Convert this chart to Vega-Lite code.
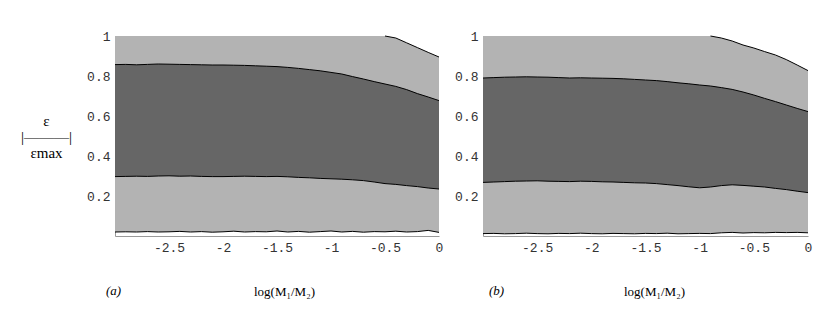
{
  "$schema": "https://vega.github.io/schema/vega-lite/v6.json",
  "padding": {"left": 20, "top": 30, "right": 5, "bottom": 5},
  "datasets": {
    "a": [
      {"x": -3.0, "lo": 0.020, "hi": 1, "dlo": 0.297, "dhi": 0.857},
      {"x": -2.9, "lo": 0.021, "hi": 1, "dlo": 0.298, "dhi": 0.858},
      {"x": -2.8, "lo": 0.020, "hi": 1, "dlo": 0.299, "dhi": 0.856},
      {"x": -2.7, "lo": 0.022, "hi": 1, "dlo": 0.298, "dhi": 0.858},
      {"x": -2.6, "lo": 0.020, "hi": 1, "dlo": 0.300, "dhi": 0.860},
      {"x": -2.5, "lo": 0.021, "hi": 1, "dlo": 0.301, "dhi": 0.859},
      {"x": -2.4, "lo": 0.023, "hi": 1, "dlo": 0.299, "dhi": 0.858},
      {"x": -2.3, "lo": 0.020, "hi": 1, "dlo": 0.300, "dhi": 0.857},
      {"x": -2.2, "lo": 0.022, "hi": 1, "dlo": 0.298, "dhi": 0.856},
      {"x": -2.1, "lo": 0.019, "hi": 1, "dlo": 0.297, "dhi": 0.855},
      {"x": -2.0, "lo": 0.021, "hi": 1, "dlo": 0.297, "dhi": 0.855},
      {"x": -1.9, "lo": 0.024, "hi": 1, "dlo": 0.298, "dhi": 0.854},
      {"x": -1.8, "lo": 0.020, "hi": 1, "dlo": 0.299, "dhi": 0.853},
      {"x": -1.7, "lo": 0.022, "hi": 1, "dlo": 0.298, "dhi": 0.851},
      {"x": -1.6, "lo": 0.021, "hi": 1, "dlo": 0.297, "dhi": 0.849},
      {"x": -1.5, "lo": 0.025, "hi": 1, "dlo": 0.298, "dhi": 0.847},
      {"x": -1.4, "lo": 0.020, "hi": 1, "dlo": 0.296, "dhi": 0.843},
      {"x": -1.3, "lo": 0.023, "hi": 1, "dlo": 0.293, "dhi": 0.838},
      {"x": -1.2, "lo": 0.019, "hi": 1, "dlo": 0.291, "dhi": 0.832},
      {"x": -1.1, "lo": 0.022, "hi": 1, "dlo": 0.288, "dhi": 0.826},
      {"x": -1.0, "lo": 0.025, "hi": 1, "dlo": 0.286, "dhi": 0.818},
      {"x": -0.9, "lo": 0.020, "hi": 1, "dlo": 0.284, "dhi": 0.810},
      {"x": -0.8, "lo": 0.023, "hi": 1, "dlo": 0.281, "dhi": 0.797},
      {"x": -0.7, "lo": 0.019, "hi": 1, "dlo": 0.277, "dhi": 0.785},
      {"x": -0.6, "lo": 0.022, "hi": 1, "dlo": 0.270, "dhi": 0.772},
      {"x": -0.5, "lo": 0.021, "hi": 1, "hl": 1, "dlo": 0.262, "dhi": 0.760},
      {"x": -0.4, "lo": 0.024, "hi": 0.990, "hl": 0.990, "dlo": 0.258, "dhi": 0.748},
      {"x": -0.3, "lo": 0.020, "hi": 0.966, "hl": 0.966, "dlo": 0.252, "dhi": 0.732},
      {"x": -0.2, "lo": 0.022, "hi": 0.942, "hl": 0.942, "dlo": 0.247, "dhi": 0.712},
      {"x": -0.1, "lo": 0.028, "hi": 0.918, "hl": 0.918, "dlo": 0.240, "dhi": 0.695},
      {"x": 0.0, "lo": 0.018, "hi": 0.895, "hl": 0.895, "dlo": 0.235, "dhi": 0.677}
    ],
    "b": [
      {"x": -3.0, "lo": 0.012, "hi": 1, "dlo": 0.268, "dhi": 0.790},
      {"x": -2.9, "lo": 0.013, "hi": 1, "dlo": 0.270, "dhi": 0.792},
      {"x": -2.8, "lo": 0.011, "hi": 1, "dlo": 0.272, "dhi": 0.794},
      {"x": -2.7, "lo": 0.012, "hi": 1, "dlo": 0.274, "dhi": 0.795},
      {"x": -2.6, "lo": 0.014, "hi": 1, "dlo": 0.275, "dhi": 0.796},
      {"x": -2.5, "lo": 0.012, "hi": 1, "dlo": 0.276, "dhi": 0.795},
      {"x": -2.4, "lo": 0.011, "hi": 1, "dlo": 0.274, "dhi": 0.794},
      {"x": -2.3, "lo": 0.013, "hi": 1, "dlo": 0.273, "dhi": 0.792},
      {"x": -2.2, "lo": 0.012, "hi": 1, "dlo": 0.272, "dhi": 0.790},
      {"x": -2.1, "lo": 0.014, "hi": 1, "dlo": 0.274, "dhi": 0.791},
      {"x": -2.0, "lo": 0.012, "hi": 1, "dlo": 0.273, "dhi": 0.790},
      {"x": -1.9, "lo": 0.011, "hi": 1, "dlo": 0.271, "dhi": 0.789},
      {"x": -1.8, "lo": 0.013, "hi": 1, "dlo": 0.270, "dhi": 0.788},
      {"x": -1.7, "lo": 0.012, "hi": 1, "dlo": 0.268, "dhi": 0.786},
      {"x": -1.6, "lo": 0.011, "hi": 1, "dlo": 0.266, "dhi": 0.783},
      {"x": -1.5, "lo": 0.013, "hi": 1, "dlo": 0.265, "dhi": 0.780},
      {"x": -1.4, "lo": 0.012, "hi": 1, "dlo": 0.262, "dhi": 0.777},
      {"x": -1.3, "lo": 0.014, "hi": 1, "dlo": 0.257, "dhi": 0.772},
      {"x": -1.2, "lo": 0.011, "hi": 1, "dlo": 0.252, "dhi": 0.766},
      {"x": -1.1, "lo": 0.012, "hi": 1, "dlo": 0.246, "dhi": 0.761},
      {"x": -1.0, "lo": 0.013, "hi": 1, "dlo": 0.241, "dhi": 0.755},
      {"x": -0.9, "lo": 0.012, "hi": 1, "hl": 1, "dlo": 0.245, "dhi": 0.750},
      {"x": -0.8, "lo": 0.016, "hi": 0.990, "hl": 0.990, "dlo": 0.252, "dhi": 0.742},
      {"x": -0.7, "lo": 0.018, "hi": 0.975, "hl": 0.975, "dlo": 0.256, "dhi": 0.733},
      {"x": -0.6, "lo": 0.015, "hi": 0.955, "hl": 0.955, "dlo": 0.253, "dhi": 0.720},
      {"x": -0.5, "lo": 0.017, "hi": 0.940, "hl": 0.940, "dlo": 0.249, "dhi": 0.705},
      {"x": -0.4, "lo": 0.016, "hi": 0.922, "hl": 0.922, "dlo": 0.245, "dhi": 0.688},
      {"x": -0.3, "lo": 0.018, "hi": 0.905, "hl": 0.905, "dlo": 0.238, "dhi": 0.672},
      {"x": -0.2, "lo": 0.017, "hi": 0.882, "hl": 0.882, "dlo": 0.232, "dhi": 0.655},
      {"x": -0.1, "lo": 0.018, "hi": 0.855, "hl": 0.855, "dlo": 0.224, "dhi": 0.638},
      {"x": 0.0, "lo": 0.016, "hi": 0.827, "hl": 0.827, "dlo": 0.217, "dhi": 0.622}
    ]
  },
  "spacing": 44,
  "bounds": "flush",
  "hconcat": [
    {
      "width": 324,
      "height": 200,
      "data": {"name": "a"},
      "title": {"text": "(a)", "orient": "bottom", "anchor": "start", "frame": "group", "font": "Liberation Serif", "fontSize": 13, "fontStyle": "italic", "fontWeight": "normal", "color": "#000", "dx": -9, "dy": -17, "offset": 4},
      "encoding": {
        "x": {"field": "x", "type": "quantitative", "scale": {"domain": [-3, 0], "nice": false, "zero": false},
          "axis": {"values": [-2.5, -2, -1.5, -1, -0.5, 0], "labelExpr": "'' + datum.value", "title": "log(M₁/M₂)", "titleX": 169, "titleY": 55, "titleBaseline": "middle", "titleAlign": "center"}}
      },
      "layer": [
        {"mark": {"type": "area", "color": "#b3b3b3", "opacity": 1},
         "encoding": {"y": {"field": "lo", "type": "quantitative", "scale": {"domain": [0, 1], "nice": false},
           "axis": {"values": [0.2, 0.4, 0.6, 0.8, 1], "labelExpr": "'' + datum.value", "title": ["ε", "|———|", "εmax"], "titleFont": "Liberation Serif", "titleColor": "#000"}},
           "y2": {"field": "hi"}}},
        {"mark": {"type": "area", "color": "#666666", "opacity": 1},
         "encoding": {"y": {"field": "dlo", "type": "quantitative",
           "axis": {"values": [0.2, 0.4, 0.6, 0.8, 1], "labelExpr": "'' + datum.value", "title": ["ε", "|———|", "εmax"], "titleFont": "Liberation Serif", "titleColor": "#000"}}, "y2": {"field": "dhi"}}},
        {"mark": {"type": "line", "color": "#000", "strokeWidth": 1},
         "encoding": {"y": {"field": "dlo", "type": "quantitative",
           "axis": {"values": [0.2, 0.4, 0.6, 0.8, 1], "labelExpr": "'' + datum.value", "title": ["ε", "|———|", "εmax"], "titleFont": "Liberation Serif", "titleColor": "#000"}}}},
        {"mark": {"type": "line", "color": "#000", "strokeWidth": 1},
         "encoding": {"y": {"field": "dhi", "type": "quantitative",
           "axis": {"values": [0.2, 0.4, 0.6, 0.8, 1], "labelExpr": "'' + datum.value", "title": ["ε", "|———|", "εmax"], "titleFont": "Liberation Serif", "titleColor": "#000"}}}},
        {"mark": {"type": "line", "color": "#000", "strokeWidth": 1},
         "encoding": {"y": {"field": "lo", "type": "quantitative",
           "axis": {"values": [0.2, 0.4, 0.6, 0.8, 1], "labelExpr": "'' + datum.value", "title": ["ε", "|———|", "εmax"], "titleFont": "Liberation Serif", "titleColor": "#000"}}}},
        {"transform": [{"filter": "isValid(datum.hl)"}],
         "mark": {"type": "line", "color": "#000", "strokeWidth": 1},
         "encoding": {"y": {"field": "hl", "type": "quantitative",
           "axis": {"values": [0.2, 0.4, 0.6, 0.8, 1], "labelExpr": "'' + datum.value", "title": ["ε", "|———|", "εmax"], "titleFont": "Liberation Serif", "titleColor": "#000"}}}}
      ]
    },
    {
      "width": 325,
      "height": 200,
      "data": {"name": "b"},
      "title": {"text": "(b)", "orient": "bottom", "anchor": "start", "frame": "group", "font": "Liberation Serif", "fontSize": 13, "fontStyle": "italic", "fontWeight": "normal", "color": "#000", "dx": 6, "dy": -17, "offset": 4},
      "encoding": {
        "x": {"field": "x", "type": "quantitative", "scale": {"domain": [-3, 0], "nice": false, "zero": false},
          "axis": {"values": [-2.5, -2, -1.5, -1, -0.5, 0], "labelExpr": "'' + datum.value", "title": "log(M₁/M₂)", "titleX": 171, "titleY": 55, "titleBaseline": "middle", "titleAlign": "center"}}
      },
      "layer": [
        {"mark": {"type": "area", "color": "#b3b3b3", "opacity": 1},
         "encoding": {"y": {"field": "lo", "type": "quantitative", "scale": {"domain": [0, 1], "nice": false},
           "axis": {"values": [0.2, 0.4, 0.6, 0.8, 1], "labelExpr": "'' + datum.value", "title": null}},
           "y2": {"field": "hi"}}},
        {"mark": {"type": "area", "color": "#666666", "opacity": 1},
         "encoding": {"y": {"field": "dlo", "type": "quantitative",
           "axis": {"values": [0.2, 0.4, 0.6, 0.8, 1], "labelExpr": "'' + datum.value", "title": null}}, "y2": {"field": "dhi"}}},
        {"mark": {"type": "line", "color": "#000", "strokeWidth": 1},
         "encoding": {"y": {"field": "dlo", "type": "quantitative",
           "axis": {"values": [0.2, 0.4, 0.6, 0.8, 1], "labelExpr": "'' + datum.value", "title": null}}}},
        {"mark": {"type": "line", "color": "#000", "strokeWidth": 1},
         "encoding": {"y": {"field": "dhi", "type": "quantitative",
           "axis": {"values": [0.2, 0.4, 0.6, 0.8, 1], "labelExpr": "'' + datum.value", "title": null}}}},
        {"mark": {"type": "line", "color": "#000", "strokeWidth": 1},
         "encoding": {"y": {"field": "lo", "type": "quantitative",
           "axis": {"values": [0.2, 0.4, 0.6, 0.8, 1], "labelExpr": "'' + datum.value", "title": null}}}},
        {"transform": [{"filter": "isValid(datum.hl)"}],
         "mark": {"type": "line", "color": "#000", "strokeWidth": 1},
         "encoding": {"y": {"field": "hl", "type": "quantitative",
           "axis": {"values": [0.2, 0.4, 0.6, 0.8, 1], "labelExpr": "'' + datum.value", "title": null}}}}
      ]
    }
  ],
  "config": {
    "view": {"stroke": null},
    "axis": {
      "grid": false, "ticks": false,
      "labelFont": "Liberation Mono", "labelFontSize": 13, "labelColor": "#333",
      "labelFlush": false, "labelOverlap": false, "labelBound": false,
      "labelPadding": 5,
      "domainColor": "#999", "domainWidth": 1,
      "titleFont": "Liberation Serif", "titleFontSize": 13, "titleFontWeight": "normal", "titleColor": "#000"
    },
    "axisY": {
      "titleAngle": 0, "titleX": -69, "titleY": 84, "titleAlign": "center", "titleBaseline": "middle", "titleFontSize": 15, "titleLineHeight": 16
    }
  }
}
